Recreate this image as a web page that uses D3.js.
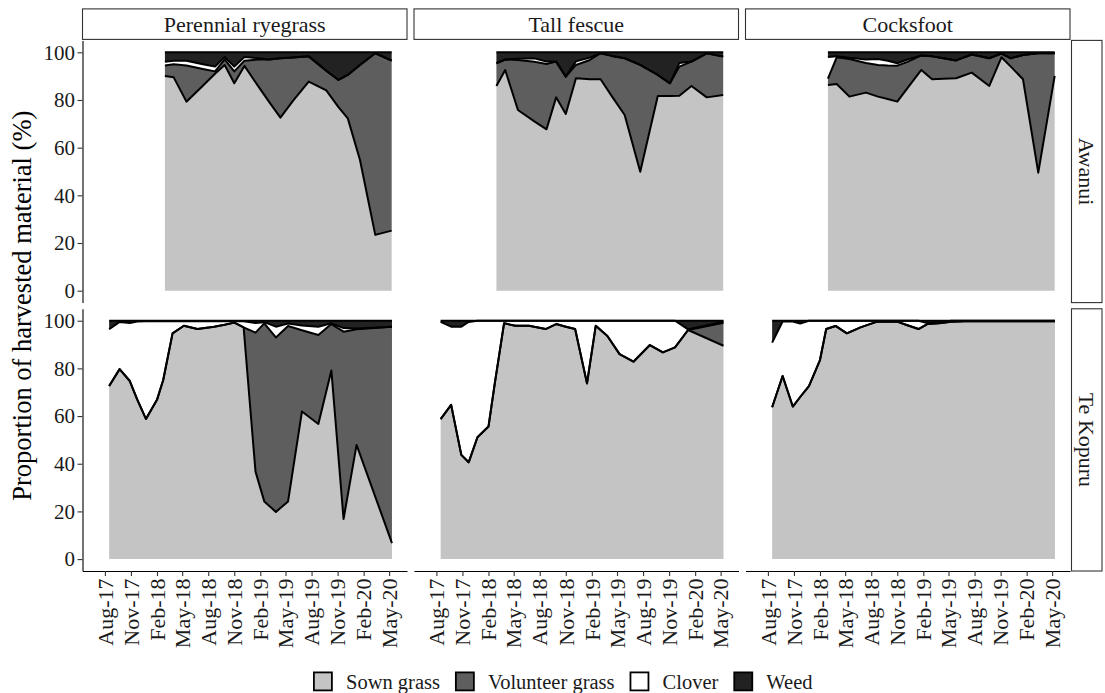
<!DOCTYPE html>
<html>
<head>
<meta charset="utf-8">
<script src="https://cdn.jsdelivr.net/npm/d3@7"></script>
<style>
  body { margin: 0; background: #ffffff; }
  svg { display: block; }
  text { font-family: "Liberation Serif", "Times New Roman", serif; fill: #1a1a1a; }
</style>
</head>
<body>
<svg id="chart" width="1105" height="693"></svg>
<script>
// ---------------- data ----------------
const grasses = ["Perennial ryegrass", "Tall fescue", "Cocksfoot"];
const sites = ["Awanui", "Te Kopuru"];
const components = ["Sown grass", "Volunteer grass", "Clover", "Weed"];
const componentFills = ["#c4c4c4", "#5e5e5e", "#ffffff", "#222222"];

const tickDates = ["2017-08-01", "2017-11-01", "2018-02-01", "2018-05-01", "2018-08-01", "2018-11-01",
                   "2019-02-01", "2019-05-01", "2019-08-01", "2019-11-01", "2020-02-01", "2020-05-01"];
const tickLabels = ["Aug-17", "Nov-17", "Feb-18", "May-18", "Aug-18", "Nov-18",
                    "Feb-19", "May-19", "Aug-19", "Nov-19", "Feb-20", "May-20"];
const yTicks = [0, 20, 40, 60, 80, 100];
const xLimits = ["2017-07-05", "2020-05-12"];
const yLimits = [0, 100];

const awanuiDates = ["2018-03-01", "2018-04-01", "2018-05-16", "2018-07-13", "2018-08-25", "2018-09-28",
  "2018-11-01", "2018-12-07", "2019-01-25", "2019-03-04", "2019-04-13", "2019-05-28", "2019-07-22",
  "2019-09-22", "2019-11-04", "2019-12-07", "2020-01-19", "2020-03-13", "2020-05-10"];
const teKopuruDates = ["2017-08-16", "2017-09-22", "2017-10-28", "2017-11-23", "2017-12-24", "2018-02-01",
  "2018-02-23", "2018-03-28", "2018-05-07", "2018-06-24", "2018-08-22", "2018-09-28", "2018-11-01",
  "2018-12-04", "2019-01-15", "2019-02-15", "2019-03-28", "2019-05-10", "2019-06-28", "2019-08-25",
  "2019-10-10", "2019-11-22", "2020-01-07", "2020-05-11"];

// Awanui - Perennial ryegrass
const ryegrassAwanuiSown      = [90.1, 89.5, 79.3, 86.0, 91.0, 94.7, 87.0, 94.3, 85.7, 79.2, 72.6, 79.7, 87.7, 84.0, 77.0, 72.3, 54.8, 23.4, 25.2];
const ryegrassAwanuiVolunteer = [4.4, 5.5, 15.2, 7.0, 1.0, 2.3, 5.0, 2.2, 11.3, 17.8, 24.9, 18.1, 10.6, 8.3, 11.4, 18.2, 39.9, 76.2, 71.3];
const ryegrassAwanuiClover    = [1.5, 1.5, 2.0, 2.0, 2.0, 1.0, 2.0, 1.5, 0.5, 0, 0, 0, 0, 0, 0, 0, 0, 0, 0];
const ryegrassAwanuiWeed      = [4.0, 3.5, 3.5, 5.0, 6.0, 2.0, 6.0, 2.0, 2.5, 3.0, 2.5, 2.2, 1.7, 7.7, 11.6, 9.5, 5.3, 0.4, 3.5];

// Awanui - Tall fescue
const fescueAwanuiSown      = [85.9, 92.6, 75.8, 71.0, 67.7, 81.1, 74.1, 89.1, 88.7, 88.7, 81.5, 73.7, 49.9, 81.7, 81.7, 81.8, 85.9, 81.1, 82.1];
const fescueAwanuiVolunteer = [9.5, 4.4, 21.0, 25.0, 27.4, 15.0, 15.7, 5.6, 8.1, 10.9, 17.0, 23.8, 44.8, 8.8, 5.3, 12.2, 10.2, 18.5, 16.1];
const fescueAwanuiClover    = [0, 0, 0.5, 1.5, 1.0, 0, 0, 1.5, 1.0, 0, 0, 0, 0, 0, 0, 1.5, 0, 0, 0];
const fescueAwanuiWeed      = [4.6, 3.0, 2.7, 2.5, 3.9, 3.9, 10.2, 3.8, 2.2, 0.4, 1.5, 2.5, 5.3, 9.5, 13.0, 4.5, 3.9, 0.4, 1.8];

// Awanui - Cocksfoot
const cocksfootAwanuiSown      = [86.3, 86.7, 81.4, 83.1, 81.4, 80.4, 79.3, 85.0, 92.6, 88.7, 88.9, 89.1, 91.5, 85.9, 97.9, 94.0, 88.7, 49.5, 90.1];
const cocksfootAwanuiVolunteer = [2.7, 11.2, 15.8, 12.4, 13.3, 14.1, 15.1, 11.0, 6.1, 9.6, 8.6, 7.5, 7.6, 11.6, 1.6, 3.5, 10.2, 50.1, 9.5];
const cocksfootAwanuiClover    = [9.0, 0.5, 0.5, 1.5, 2.5, 2.0, 1.0, 1.0, 0, 0, 0, 0, 0, 0, 0, 0, 0, 0, 0];
const cocksfootAwanuiWeed      = [2.0, 1.6, 2.3, 3.0, 2.8, 3.5, 4.6, 3.0, 1.3, 1.7, 2.5, 3.4, 0.9, 2.5, 0.5, 2.5, 1.1, 0.4, 0.4];

// Te Kopuru - Perennial ryegrass
const ryegrassTeKopuruSown      = [72.6, 79.7, 74.7, 67.0, 58.8, 66.8, 75.1, 94.7, 97.9, 96.5, 97.5, 98.3, 99.2, 97.2, 36.7, 24.2, 19.8, 24.2, 61.9, 56.7, 79.1, 16.8, 47.9, 6.7];
const ryegrassTeKopuruVolunteer = [0, 0, 0, 0, 0, 0, 0, 0, 0, 0, 0, 0, 0, 0, 58.3, 74.7, 73.2, 73.6, 34.1, 37.3, 19.5, 78.6, 48.5, 90.8];
const ryegrassTeKopuruClover    = [23.8, 19.8, 24.3, 32.7, 41.0, 33.0, 24.7, 5.1, 2.0, 3.3, 2.3, 1.5, 0.6, 2.6, 4.0, 0.5, 4.5, 1.0, 2.0, 3.5, 0.3, 1.5, 0.3, 0];
const ryegrassTeKopuruWeed      = [3.6, 0.5, 1.0, 0.3, 0.2, 0.2, 0.2, 0.2, 0.1, 0.2, 0.2, 0.2, 0.2, 0.2, 1.0, 0.6, 2.5, 1.2, 2.0, 2.5, 1.1, 3.1, 3.3, 2.5];

// Te Kopuru - Tall fescue
const fescueTeKopuruSown      = [58.7, 64.7, 43.7, 40.6, 51.1, 55.6, 73.5, 98.9, 97.9, 97.9, 96.5, 98.6, 97.5, 96.5, 73.7, 97.9, 93.6, 86.0, 82.8, 89.8, 86.7, 88.8, 96.1, 89.5];
const fescueTeKopuruVolunteer = [0, 0, 0, 0, 0, 0, 0, 0, 0, 0, 0, 0, 0, 0, 0, 0, 0, 0, 0, 0, 0, 0, 0, 9.6];
const fescueTeKopuruClover    = [40.8, 32.8, 53.8, 58.9, 48.9, 44.4, 26.5, 1.1, 2.1, 2.1, 3.5, 1.4, 2.5, 3.5, 26.3, 2.1, 6.4, 14.0, 17.2, 10.2, 13.3, 11.2, 0.3, 0.5];
const fescueTeKopuruWeed      = [0.5, 2.5, 2.5, 0.5, 0, 0, 0, 0, 0, 0, 0, 0, 0, 0, 0, 0, 0, 0, 0, 0, 0, 0, 3.6, 0.4];

// Te Kopuru - Cocksfoot
const cocksfootTeKopuruSown      = [63.7, 76.8, 64.0, 68.0, 72.6, 83.5, 96.5, 97.8, 94.7, 97.2, 99.6, 99.6, 99.6, 98.2, 96.5, 98.6, 98.9, 99.6, 99.8, 99.8, 99.8, 99.8, 99.8, 99.8];
const cocksfootTeKopuruVolunteer = [0, 0, 0, 0, 0, 0, 0, 0, 0, 0, 0, 0, 0, 0, 0, 0, 0, 0, 0, 0, 0, 0, 0, 0];
const cocksfootTeKopuruClover    = [27.1, 22.9, 35.7, 30.8, 27.4, 16.5, 3.5, 2.2, 5.3, 2.8, 0.4, 0.4, 0.4, 1.8, 3.5, 0.4, 0.1, 0.4, 0.2, 0.2, 0.2, 0.2, 0.2, 0.2];
const cocksfootTeKopuruWeed      = [9.2, 0.3, 0.3, 1.2, 0, 0, 0, 0, 0, 0, 0, 0, 0, 0, 0, 1.0, 1.0, 0, 0, 0, 0, 0, 0, 0];

// ---------------- layout ----------------
const parse = d3.utcParse("%Y-%m-%d");
const leftX = 82.5, panelW = 324.5, gapX = 7;
const topY = 40.4, panelH = 262.2, gapY = 6.2;
const stripH = 30.5;

const panels = [
  { row: 0, col: 0, dates: awanuiDates, series: [ryegrassAwanuiSown, ryegrassAwanuiVolunteer, ryegrassAwanuiClover, ryegrassAwanuiWeed] },
  { row: 0, col: 1, dates: awanuiDates, series: [fescueAwanuiSown, fescueAwanuiVolunteer, fescueAwanuiClover, fescueAwanuiWeed] },
  { row: 0, col: 2, dates: awanuiDates, series: [cocksfootAwanuiSown, cocksfootAwanuiVolunteer, cocksfootAwanuiClover, cocksfootAwanuiWeed] },
  { row: 1, col: 0, dates: teKopuruDates, series: [ryegrassTeKopuruSown, ryegrassTeKopuruVolunteer, ryegrassTeKopuruClover, ryegrassTeKopuruWeed] },
  { row: 1, col: 1, dates: teKopuruDates, series: [fescueTeKopuruSown, fescueTeKopuruVolunteer, fescueTeKopuruClover, fescueTeKopuruWeed] },
  { row: 1, col: 2, dates: teKopuruDates, series: [cocksfootTeKopuruSown, cocksfootTeKopuruVolunteer, cocksfootTeKopuruClover, cocksfootTeKopuruWeed] }
];

// scales (ggplot-like 5% expansion)
const xl = xLimits.map(parse);
const xs = +xl[1] - +xl[0];
const x = d3.scaleUtc()
  .domain([new Date(+xl[0] - 0.05 * xs), new Date(+xl[1] + 0.05 * xs)])
  .range([0, panelW]);
const ys = yLimits[1] - yLimits[0];
const y = d3.scaleLinear()
  .domain([yLimits[0] - 0.05 * ys, yLimits[1] + 0.05 * ys])
  .range([panelH, 0]);

const svg = d3.select("#chart");
const color = d3.scaleOrdinal().domain(components).range(componentFills);

const px = c => leftX + c * (panelW + gapX);
const py = r => topY + r * (panelH + gapY);

const stack = d3.stack().keys(components);
const area = d3.area().x(d => x(d.data.date)).y0(d => y(d[0])).y1(d => y(d[1]));
const upper = d3.line().x(d => x(d.data.date)).y(d => y(d[1]));

panels.forEach(p => {
  const rows = p.dates.map((d, i) => {
    const o = { date: parse(d) };
    components.forEach((k, j) => { o[k] = p.series[j][i]; });
    return o;
  });
  const layers = stack(rows);
  const g = svg.append("g").attr("transform", `translate(${px(p.col)},${py(p.row)})`);
  g.selectAll("path.fill").data(layers).join("path")
    .attr("class", "fill")
    .attr("d", area)
    .attr("fill", d => color(d.key))
    .attr("stroke", "none");
  g.selectAll("path.edge").data(layers).join("path")
    .attr("class", "edge")
    .attr("d", upper)
    .attr("fill", "none")
    .attr("stroke", "#000")
    .attr("stroke-width", 2)
    .attr("stroke-linejoin", "round");
});

// y axes on left column
sites.forEach((s, r) => {
  const g = svg.append("g").attr("transform", `translate(${leftX},${py(r)})`)
    .call(d3.axisLeft(y).tickValues(yTicks).tickSize(5).tickSizeOuter(0).tickPadding(2.5));
  g.select(".domain").attr("stroke", "#000").attr("stroke-width", 1.1);
  g.selectAll(".tick line").attr("stroke", "#333").attr("stroke-width", 1.1);
  g.selectAll(".tick text").attr("font-size", 21).attr("font-family", null).style("fill", "#1a1a1a");
});

// x axes on bottom row
grasses.forEach((gname, c) => {
  const g = svg.append("g").attr("transform", `translate(${px(c)},${py(1) + panelH})`)
    .call(d3.axisBottom(x).tickValues(tickDates.map(parse)).tickFormat((d, i) => tickLabels[i])
      .tickSize(5).tickSizeOuter(0));
  g.select(".domain").attr("stroke", "#000").attr("stroke-width", 1.1);
  g.selectAll(".tick line").attr("stroke", "#333").attr("stroke-width", 1.1);
  g.selectAll(".tick text")
    .attr("font-size", 22).attr("font-family", null).style("fill", "#1a1a1a")
    .attr("text-anchor", "end")
    .attr("transform", "rotate(-90)")
    .attr("x", -7.5).attr("y", 0).attr("dy", "0.33em");
});

// top strips
grasses.forEach((gname, c) => {
  svg.append("rect").attr("x", px(c)).attr("y", topY - stripH - 1).attr("width", panelW).attr("height", stripH)
    .attr("fill", "#fff").attr("stroke", "#333").attr("stroke-width", 1.1);
  svg.append("text").attr("x", px(c) + panelW / 2).attr("y", topY - 1 - stripH / 2)
    .attr("text-anchor", "middle").attr("dominant-baseline", "central")
    .attr("font-size", 22).text(gname);
});

// right strips
const stripX = px(2) + panelW + 1.5;
sites.forEach((s, r) => {
  svg.append("rect").attr("x", stripX).attr("y", py(r)).attr("width", stripH).attr("height", panelH)
    .attr("fill", "#fff").attr("stroke", "#333").attr("stroke-width", 1.1);
  svg.append("text")
    .attr("transform", `translate(${stripX + stripH / 2},${py(r) + panelH / 2}) rotate(90)`)
    .attr("text-anchor", "middle").attr("dominant-baseline", "central")
    .attr("font-size", 22).text(s);
});

// y axis title
svg.append("text")
  .attr("transform", `translate(22,${(topY + py(1) + panelH) / 2}) rotate(-90)`)
  .attr("text-anchor", "middle").attr("dominant-baseline", "central")
  .attr("font-size", 26.5).style("fill", "#000")
  .text("Proportion of harvested material (%)");

// legend
const legend = svg.append("g").attr("transform", "translate(313,671.5)");
let lx = 0;
components.forEach((k, i) => {
  const item = legend.append("g").attr("transform", `translate(${lx},0)`);
  item.append("rect").attr("x", 0.9).attr("y", 0.9).attr("width", 18).attr("height", 18)
    .attr("fill", color(k)).attr("stroke", "#000").attr("stroke-width", 1.8);
  const t = item.append("text").attr("x", 33).attr("y", 10).attr("dominant-baseline", "central")
    .attr("font-size", 20.5).text(k);
  lx += 33 + t.node().getComputedTextLength() + 15;
});
</script>
</body>
</html>
